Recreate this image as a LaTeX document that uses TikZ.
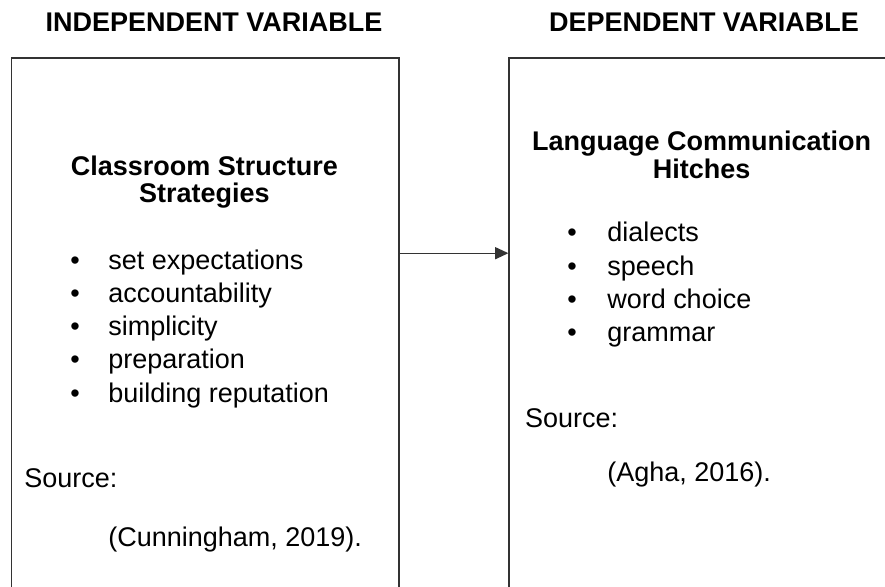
\documentclass[tikz,border=0pt]{standalone}
\usepackage{fontspec}
\usepackage{tikz}
\usetikzlibrary{arrows.meta}
\setmainfont{Liberation Sans}
\definecolor{boxline}{HTML}{333333}

\begin{document}
\begin{tikzpicture}[
    every node/.style={inner sep=0pt, font=\fontsize{19.2}{23}\selectfont},
    varbox/.style={draw=boxline, line width=1.1pt, anchor=north west, minimum height=14cm},
    heading/.style={anchor=base, font=\fontsize{19.2}{23}\selectfont\bfseries},
    item/.style={anchor=base west},
    dot/.style={anchor=base}
  ]
  \useasboundingbox (0,0) rectangle (22.125,14.65);

  % the two variable boxes
  \node[varbox, minimum width=9.69cm] (ivbox) at (0.27,13.22) {};
  \node[varbox, minimum width=10cm] (dvbox) at (12.71,13.22) {};
  \node[heading] (ivtitle) at (5.35,13.85) {INDEPENDENT VARIABLE};
  \node[heading] (dvtitle) at (17.6,13.85) {DEPENDENT VARIABLE};

  % independent side
  \node[heading] (ivhead1) at (5.11,10.275) {Classroom Structure};
  \node[heading] (ivhead2) at (5.11,9.575) {Strategies};
  \node[dot] (ivdot1) at (1.875,7.9) {•};
  \node[item] (ivitem1) at (2.7,7.9) {set expectations};
  \node[dot] (ivdot2) at (1.875,7.075) {•};
  \node[item] (ivitem2) at (2.7,7.075) {accountability};
  \node[dot] (ivdot3) at (1.875,6.25) {•};
  \node[item] (ivitem3) at (2.7,6.25) {simplicity};
  \node[dot] (ivdot4) at (1.875,5.425) {•};
  \node[item] (ivitem4) at (2.7,5.425) {preparation};
  \node[dot] (ivdot5) at (1.875,4.6) {•};
  \node[item] (ivitem5) at (2.7,4.6) {building reputation};
  \node[item] (ivsource) at (0.6,2.475) {Source:};
  \node[item] (ivcite) at (2.7,1.0) {(Cunningham, 2019).};

  % dependent side
  \node[heading] (dvhead1) at (17.54,10.875) {Language Communication};
  \node[heading] (dvhead2) at (17.54,10.175) {Hitches};
  \node[dot] (dvdot1) at (14.3,8.6) {•};
  \node[item] (dvitem1) at (15.175,8.6) {dialects};
  \node[dot] (dvdot2) at (14.3,7.77) {•};
  \node[item] (dvitem2) at (15.175,7.77) {speech};
  \node[dot] (dvdot3) at (14.3,6.94) {•};
  \node[item] (dvitem3) at (15.175,6.94) {word choice};
  \node[dot] (dvdot4) at (14.3,6.11) {•};
  \node[item] (dvitem4) at (15.175,6.11) {grammar};
  \node[item] (dvsource) at (13.12,3.975) {Source:};
  \node[item] (dvcite) at (15.175,2.625) {(Agha, 2016).};

  \coordinate (arrowlevel) at (0,8.32);
  \draw[boxline, line width=0.9pt, -{Triangle[length=0.33cm,width=0.3cm]}]
    (ivbox.east |- arrowlevel) -- (dvbox.west |- arrowlevel);
\end{tikzpicture}
\end{document}
